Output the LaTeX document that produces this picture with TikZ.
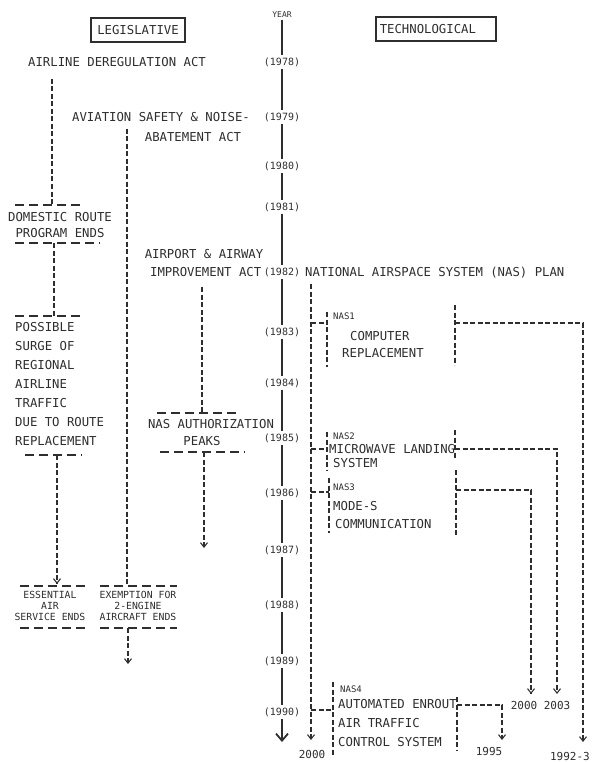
\documentclass[tikz,border=0pt]{standalone}
\usepackage{fontspec}
\usetikzlibrary{arrows.meta}
\newfontfamily\tw{DejaVu Sans Mono}
\definecolor{ink}{gray}{0.18}
\begin{document}
\begin{tikzpicture}[x=1pt,y=-1pt,
  lbl/.style={font=\tw\fontsize{12.3}{19}\selectfont, inner sep=0pt, text=ink},
  sml/.style={font=\tw\fontsize{9.8}{11}\selectfont, inner sep=0pt, text=ink, align=center},
  nas/.style={font=\tw\fontsize{9}{11}\selectfont, inner sep=0pt, text=ink, anchor=west},
  yrs/.style={font=\tw\fontsize{10}{12}\selectfont, inner sep=0pt, outer sep=2.5pt, text=ink},
  fin/.style={font=\tw\fontsize{11}{13}\selectfont, inner sep=0pt, text=ink},
  boxed/.style={draw=ink, line width=1.5pt, minimum height=24pt},
  dsh/.style={draw=ink, line width=1.1pt, dash pattern=on 5pt off 2.5pt},
  bar/.style={draw=ink, line width=1.1pt, dash pattern=on 9pt off 5pt},
  tl/.style={draw=ink, line width=1.8pt},
  arr/.style={-{Straight Barb[length=4.5pt,width=7pt]}}]
\useasboundingbox (0,0) rectangle (592,762);

% headers
\node[lbl, boxed, minimum width=94pt] (leg) at (138,30) {LEGISLATIVE};
\node[lbl, boxed, anchor=west, text width=112pt, inner xsep=4pt] (tech) at (375,29) {TECHNOLOGICAL};

% timeline
\node[yrs, font=\tw\fontsize{8}{10}\selectfont] (yr) at (282,15) {YEAR};
\foreach \yv/\yy in {1978/62,1979/117,1980/166,1981/207,1982/272,1983/332,1984/383,1985/438,1986/493,1987/550,1988/605,1989/661,1990/712}
  \node[yrs] (y\yv) at (282,\yy) {(\yv)};
\draw[tl] (yr) -- (y1978);
\foreach \a/\b in {1978/1979,1979/1980,1980/1981,1981/1982,1982/1983,1983/1984,1984/1985,1985/1986,1986/1987,1987/1988,1988/1989,1989/1990}
  \draw[tl] (y\a) -- (y\b);
\coordinate (tlend) at (282,742);
\draw[tl, -{Straight Barb[length=7pt,width=12pt]}] (y1990) -- (tlend);

% ---- legislative, column 1
\node[lbl] (ada) at (117,62) {AIRLINE DEREGULATION ACT};
\coordinate (c1top) at (52,79);
\coordinate (c1bar) at (52,205);
\draw[dsh] (c1top) -- (c1bar);
\draw[bar] (15,205) -- (80,205);
\node[lbl, align=center, font=\tw\fontsize{12.3}{16}\selectfont] (dr) at (60,225) {DOMESTIC ROUTE\\PROGRAM ENDS};
\draw[bar] (15,243) -- (100,243);
\coordinate (c2top) at (54,243);
\coordinate (c2bar) at (54,316);
\draw[dsh] (c2top) -- (c2bar);
\draw[bar] (15,316) -- (80,316);
\node[lbl, align=left, anchor=north west] (ps) at (15,322.5) {POSSIBLE\\SURGE OF\\REGIONAL\\AIRLINE\\TRAFFIC\\DUE TO ROUTE\\REPLACEMENT};
\draw[bar] (25,455) -- (82,455);
\coordinate (c3top) at (57,455);
\coordinate (c3end) at (57,584);
\draw[dsh, arr] (c3top) -- (c3end);
\draw[bar] (20,586) -- (85,586);
\node[sml] (eas) at (50,606) {ESSENTIAL\\AIR\\SERVICE ENDS};
\draw[bar] (20,628) -- (85,628);

% ---- column 2
\node[lbl] (av1) at (161,117) {AVIATION SAFETY \& NOISE-};
\node[lbl] (av2) at (193,137) {ABATEMENT ACT};
\coordinate (c4top) at (127,129);
\coordinate (c4bar) at (127,586);
\draw[dsh] (c4top) -- (c4bar);
\draw[bar] (100,586) -- (177,586);
\node[sml] (ex) at (138,606) {EXEMPTION FOR\\2-ENGINE\\AIRCRAFT ENDS};
\draw[bar] (100,628) -- (177,628);
\coordinate (c5top) at (128,628);
\coordinate (c5end) at (128,664);
\draw[dsh, arr] (c5top) -- (c5end);

% ---- column 3
\node[lbl] (aa1) at (204,254) {AIRPORT \& AIRWAY};
\node[lbl, anchor=east] (aa2) at (y1982.west) {IMPROVEMENT ACT};
\coordinate (c6top) at (202,287);
\coordinate (c6bar) at (202,413);
\draw[dsh] (c6top) -- (c6bar);
\draw[bar] (157,413) -- (240,413);
\node[lbl] (nasa) at (211,424) {NAS AUTHORIZATION};
\node[lbl] (pk) at (202,441) {PEAKS};
\draw[bar] (160,452) -- (245,452);
\coordinate (c7top) at (204,452);
\coordinate (c7end) at (204,548);
\draw[dsh, arr] (c7top) -- (c7end);

% ---- technological
\node[lbl, anchor=west] (plan) at (305,273) {NATIONAL AIRSPACE SYSTEM (NAS) PLAN};
\coordinate (m0) at (311,284);
\coordinate (mend) at (311,740);
\draw[dsh, arr] (m0) -- (mend);
\node[fin] (f1) at (312,754) {2000};

% NAS1
\node[nas] (n1a) at (333,316) {NAS1};
\node[lbl, anchor=west] (n1b) at (350,336) {COMPUTER};
\node[lbl, anchor=west] (n1c) at (342,353) {REPLACEMENT};
\coordinate (n1l) at (327,323);
\coordinate (n1r) at (455,323);
\coordinate (n1c1) at (583,323);
\coordinate (n1end) at (583,742);
\draw[dsh] (327,312) -- (327,367);
\draw[dsh] (m0 |- n1l) -- (n1l);
\draw[dsh] (455,305) -- (455,365);
\draw[dsh, arr] (n1r) -- (n1c1) -- (n1end);
\node[fin, anchor=east] (f4) at (590,756) {1992-3};

% NAS2
\node[nas] (n2a) at (333,436) {NAS2};
\node[lbl, anchor=west] (n2b) at (329,449) {MICROWAVE LANDING};
\node[lbl, anchor=west] (n2c) at (333,463) {SYSTEM};
\coordinate (n2l) at (327,449);
\coordinate (n2r) at (455,449);
\coordinate (n2c1) at (557,449);
\coordinate (n2end) at (557,694);
\draw[dsh] (327,432) -- (327,470);
\draw[dsh] (m0 |- n2l) -- (n2l);
\draw[dsh] (455,430) -- (455,458);
\draw[dsh, arr] (n2r) -- (n2c1) -- (n2end);
\node[fin] (f3) at (557,705) {2003};

% NAS3
\node[nas] (n3a) at (333,487) {NAS3};
\node[lbl, anchor=west] (n3b) at (333,506) {MODE-S};
\node[lbl, anchor=west] (n3c) at (335,524) {COMMUNICATION};
\coordinate (n3l) at (329,492);
\coordinate (n3r) at (456,490);
\coordinate (n3c1) at (531,490);
\coordinate (n3end) at (531,694);
\draw[dsh] (329,478) -- (329,533);
\draw[dsh] (m0 |- n3l) -- (n3l);
\draw[dsh] (456,470) -- (456,535);
\draw[dsh, arr] (n3r) -- (n3c1) -- (n3end);
\node[fin] (f2) at (524,705) {2000};

% NAS4
\node[nas] (n4a) at (340,689) {NAS4};
\node[lbl, anchor=west] (n4b) at (338,704) {AUTOMATED ENROUT};
\node[lbl, anchor=west] (n4c) at (338,723) {AIR TRAFFIC};
\node[lbl, anchor=west] (n4d) at (338,742) {CONTROL SYSTEM};
\coordinate (n4l) at (333,710);
\coordinate (n4r) at (457,705);
\coordinate (n4c1) at (502,705);
\coordinate (n4end) at (502,740);
\draw[dsh] (333,682) -- (333,755);
\draw[dsh] (m0 |- n4l) -- (n4l);
\draw[dsh] (457,697) -- (457,750);
\draw[dsh, arr] (n4r) -- (n4c1) -- (n4end);
\node[fin] (f5) at (489,751) {1995};
\end{tikzpicture}
\end{document}
